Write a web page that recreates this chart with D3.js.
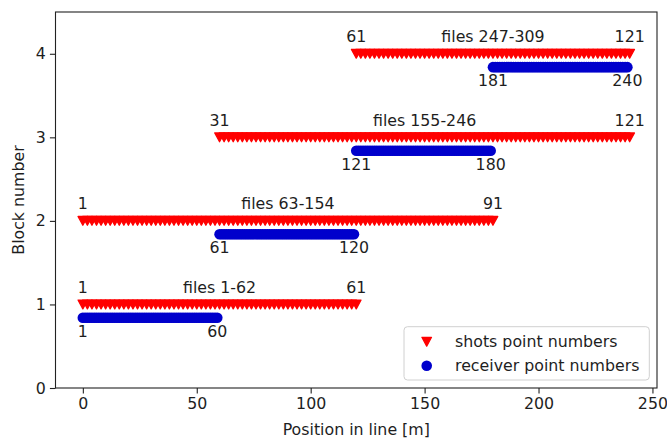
<!DOCTYPE html>
<html>
<head>
<meta charset="utf-8">
<script src="https://cdn.jsdelivr.net/npm/d3@7/dist/d3.min.js"></script>
<style>
  html, body { margin: 0; padding: 0; background: #fff; }
  svg { display: block; font-family: "DejaVu Sans", sans-serif; }
</style>
</head>
<body>
<svg id="chart" width="667" height="440"></svg>
<script>
// Acquisition blocks along the line
const blocks = [1, 2, 3, 4];
const shotFirst = [1, 1, 31, 61];
const shotLast = [61, 91, 121, 121];
const receiverFirst = [1, 61, 121, 181];
const receiverLast = [60, 120, 180, 240];
const fileLabels = ["files 1-62", "files 63-154", "files 155-246", "files 247-309"];
const shotSpacing = 2;      // m between shot points
const receiverSpacing = 1;  // m between receiver points
const xTicks = [0, 50, 100, 150, 200, 250];
const yTicks = [0, 1, 2, 3, 4];

const shotPos = n => (n - 1) * shotSpacing;
const receiverPos = n => (n - 1) * receiverSpacing;
const receiverOffset = 0.16;

const svg = d3.select("#chart");
const plotLeft = 55.5, plotRight = 657, plotTop = 12, plotBottom = 388;
const fontSize = 15.8;
const textColor = "#1e1e1e";

const x = d3.scaleLinear().domain([-12, 252]).range([plotLeft, plotRight]);
const y = d3.scaleLinear().domain([0, 4.5]).range([plotBottom, plotTop]);

// Marker shapes: downward triangle for shots, disc for receivers
const triPath = (w, h) => `M${-w/2},${-h/2}L${w/2},${-h/2}L0,${h/2}Z`;
const TRI_W = 9.6, TRI_H = 8.8, TRI_EDGE = 1.3;
const DOT_R = 5.3;
const shotColor = "#ff0000";
const recvColor = "#0000cc";

const plot = svg.append("g");

blocks.forEach((b, i) => {
  const shots = d3.range(shotFirst[i], shotLast[i] + 1);
  const recvs = d3.range(receiverFirst[i], receiverLast[i] + 1);

  plot.append("g").selectAll("path").data(shots).join("path")
    .attr("d", triPath(TRI_W, TRI_H))
    .attr("transform", d => `translate(${x(shotPos(d))},${y(b)})`)
    .attr("fill", shotColor)
    .attr("stroke", shotColor)
    .attr("stroke-width", TRI_EDGE)
    .attr("stroke-linejoin", "round");

  plot.append("g").selectAll("circle").data(recvs).join("circle")
    .attr("cx", d => x(receiverPos(d)))
    .attr("cy", y(b - receiverOffset))
    .attr("r", DOT_R)
    .attr("fill", recvColor);

  const lab = plot.append("g")
    .attr("font-size", fontSize)
    .attr("fill", textColor)
    .attr("text-anchor", "middle");

  const above = y(b + 0.14);
  const below = y(b - 0.39);
  lab.append("text").attr("x", x(shotPos(shotFirst[i]))).attr("y", above).text(shotFirst[i]);
  lab.append("text").attr("x", x(shotPos(shotLast[i]))).attr("y", above).text(shotLast[i]);
  lab.append("text")
    .attr("x", x((shotPos(shotFirst[i]) + shotPos(shotLast[i])) / 2))
    .attr("y", above).text(fileLabels[i]);
  lab.append("text").attr("x", x(receiverPos(receiverFirst[i]))).attr("y", below).text(receiverFirst[i]);
  lab.append("text").attr("x", x(receiverPos(receiverLast[i]))).attr("y", below).text(receiverLast[i]);
});

// Axes
const xAxis = d3.axisBottom(x).tickValues(xTicks).tickSize(5.6).tickPadding(4.5).tickFormat(d3.format("d"));
const yAxis = d3.axisLeft(y).tickValues(yTicks).tickSize(5.6).tickPadding(4).tickFormat(d3.format("d"));

const gx = svg.append("g").attr("transform", `translate(0,${plotBottom})`).call(xAxis);
const gy = svg.append("g").attr("transform", `translate(${plotLeft},0)`).call(yAxis);
[gx, gy].forEach(g => {
  g.select(".domain").remove();
  g.selectAll("line").attr("stroke", "#222").attr("stroke-width", 1.1);
  g.selectAll("text").attr("font-size", fontSize).attr("fill", textColor)
    .attr("font-family", "DejaVu Sans, sans-serif");
});

// Frame
svg.append("rect")
  .attr("x", plotLeft).attr("y", plotTop)
  .attr("width", plotRight - plotLeft).attr("height", plotBottom - plotTop)
  .attr("fill", "none").attr("stroke", "#222").attr("stroke-width", 1.1);

// Axis titles
svg.append("text")
  .attr("x", (plotLeft + plotRight) / 2).attr("y", 435)
  .attr("text-anchor", "middle").attr("font-size", fontSize).attr("fill", textColor)
  .text("Position in line [m]");
svg.append("text")
  .attr("transform", `translate(24,${(plotTop + plotBottom) / 2}) rotate(-90)`)
  .attr("text-anchor", "middle").attr("font-size", fontSize).attr("fill", textColor)
  .text("Block number");

// Legend
const legend = svg.append("g");
legend.append("rect")
  .attr("x", 404).attr("y", 326.7).attr("width", 245.3).attr("height", 53.3)
  .attr("rx", 3.5).attr("fill", "#fff").attr("fill-opacity", 0.8)
  .attr("stroke", "#d0d0d0").attr("stroke-width", 1);
const legendItems = [
  { label: "shots point numbers", kind: "shot" },
  { label: "receiver point numbers", kind: "recv" }
];
legendItems.forEach((it, i) => {
  const cy = 341.7 + i * 24;
  if (it.kind === "shot") {
    legend.append("path").attr("d", triPath(TRI_W, TRI_H))
      .attr("transform", `translate(426.7,${cy})`)
      .attr("fill", shotColor).attr("stroke", shotColor)
      .attr("stroke-width", TRI_EDGE).attr("stroke-linejoin", "round");
  } else {
    legend.append("circle").attr("cx", 426.7).attr("cy", cy).attr("r", DOT_R).attr("fill", recvColor);
  }
  legend.append("text").attr("x", 455).attr("y", cy + 5.6)
    .attr("font-size", fontSize).attr("fill", textColor).text(it.label);
});
</script>
</body>
</html>
